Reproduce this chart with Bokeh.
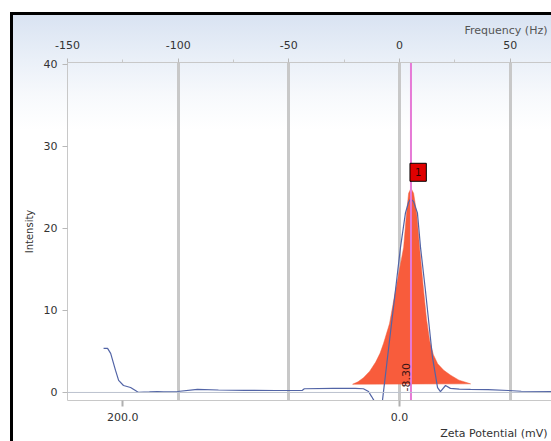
import math
from bokeh.plotting import figure
from bokeh.models import (Range1d, LinearAxis, FixedTicker, NumeralTickFormatter,
                          Label, Span, ColumnDataSource, Title)
from bokeh.core.properties import value
from bokeh.embed import file_html
from bokeh.resources import INLINE

# ---------------- data ----------------
# raw spectrum (frequency, Hz) vs intensity
freq_hz = [-133.7, -131.9, -130.5, -128.3, -126.9, -124.7, -121.5, -119.3, -117.9, -113.0,
           -109.3, -106.6, -100.3, -91.3, -81.8, -70.0, -56.0, -44.0, -43.0, -30.0,
           -20.0, -16.3, -14.0, -12.6, -11.5, -9.9, -8.6, -7.7, -5.4, -1.8,
           0.45, 2.7, 4.1, 5.0, 6.3, 8.1, 9.5, 11.7, 14.9, 17.2,
           18.5, 20.8, 23.0, 27.0, 32.1, 40.0, 49.2, 55.0, 68.7]
spec_int = [5.37, 5.37, 4.76, 2.69, 1.47, 0.85, 0.61, 0.24, 0.0, 0.06,
            0.12, 0.06, 0.12, 0.37, 0.30, 0.25, 0.24, 0.25, 0.45, 0.49,
            0.49, 0.45, 0.12, -0.5, -1.0, -1.6, -1.4, -1.0, 4.3, 12.5,
            17.7, 21.9, 23.2, 23.6, 23.3, 21.9, 17.7, 12.5, 4.3, 0.6,
            0.1, 0.85, 0.5, 0.4, 0.37, 0.35, 0.24, 0.15, 0.12]

# zeta potential distribution (mV) vs intensity
zeta_mv = [33.9, 30.0, 26.0, 21.5, 17.2, 14.0, 11.5, 7.2, 2.8, 0.0,
           -3.0, -5.1, -6.6, -8.3, -10.2, -12.4, -14.5, -17.4, -19.5, -21.8,
           -24.5, -27.6, -32.0, -37.0, -43.0, -51.4]
zeta_int = [1.0, 1.3, 1.8, 2.6, 3.7, 4.8, 6.0, 8.4, 12.5, 15.0,
            17.7, 21.9, 24.3, 24.9, 24.3, 21.9, 17.7, 12.5, 9.0, 6.3,
            4.6, 3.5, 2.7, 2.1, 1.5, 1.05]

peak_zeta = -8.30
peak_int = 24.9
peak_id = "1"

freq_ticks = [-150, -100, -50, 0, 50]
freq_minor = [-125, -75, -25, 25]
zeta_ticks = [200, 0]
int_ticks = [0, 10, 20, 30, 40]

# ---------------- figure ----------------
FONT = "DejaVu Sans"
hz_lo, hz_hi = -150, 68.68
p = figure(width=551, height=441, x_range=Range1d(hz_lo, hz_hi), y_range=Range1d(-0.98, 40.24),
           x_axis_location="above", output_backend="svg", toolbar_location=None,
           min_border_left=67, min_border_right=0, min_border_top=62, min_border_bottom=41)
p.extra_x_ranges = {"zeta": Range1d(-1.6 * hz_lo, -1.6 * hz_hi)}
p.background_fill_color = None
p.border_fill_color = None
p.outline_line_color = None
p.styles = {
    "background": ("linear-gradient(#000000, #000000) 10px 12px / 100% 3px no-repeat, "
                   "linear-gradient(#000000, #000000) 10px 12px / 3px 100% no-repeat, "
                   "linear-gradient(to bottom, #d9e3f2 0px, #eaf0f8 45px, #f7f9fc 80px, #ffffff 115px) "
                   "13px 15px / 100% 125px no-repeat, #ffffff"),
}

# top axis (frequency)
ta = p.xaxis[0]
ta.ticker = FixedTicker(ticks=freq_ticks, minor_ticks=freq_minor)
ta.formatter = NumeralTickFormatter(format="0")
ta.axis_line_color = "#c8c8c8"
ta.major_tick_line_color = "#b8b8b8"
ta.minor_tick_line_color = "#c8c8c8"
ta.major_tick_out = 4
ta.major_tick_in = 0
ta.minor_tick_out = 3
ta.minor_tick_in = 0
ta.major_label_standoff = 10
ta.major_label_text_font = FONT
ta.major_label_text_font_size = "11px"
ta.major_label_text_color = "#333333"

# left axis
la = p.yaxis[0]
la.ticker = FixedTicker(ticks=int_ticks, minor_ticks=[])
la.formatter = NumeralTickFormatter(format="0")
la.axis_line_color = "#c8c8c8"
la.major_tick_line_color = "#b8b8b8"
la.major_tick_out = 5
la.major_tick_in = 0
la.major_label_standoff = 5
la.major_label_text_font = FONT
la.major_label_text_font_size = "11px"
la.major_label_text_color = "#333333"
la.axis_label = "Intensity"
la.axis_label_text_font = FONT
la.axis_label_text_font_size = "10px"
la.axis_label_text_font_style = "normal"
la.axis_label_text_color = "#333333"
la.axis_label_standoff = 6

# bottom axis (zeta potential)
ba = LinearAxis(x_range_name="zeta", ticker=FixedTicker(ticks=zeta_ticks, minor_ticks=[]),
                formatter=NumeralTickFormatter(format="0.0"))
ba.axis_line_color = "#c8c8c8"
ba.major_tick_line_color = "#b0b0b0"
ba.major_tick_line_width = 2
ba.major_tick_out = 6
ba.major_tick_in = 0
ba.major_label_standoff = 6
ba.major_label_text_font = FONT
ba.major_label_text_font_size = "11px"
ba.major_label_text_color = "#333333"
p.add_layout(ba, "below")

# axis titles on the right-hand side
p.add_layout(Title(text="Frequency (Hz)", align="right", text_font=FONT,
                   text_font_size="11px", text_font_style="normal", text_color="#555555",
                   standoff=2, offset=4), "above")
p.add_layout(Title(text="Zeta Potential (mV)", align="right", text_font=FONT,
                   text_font_size="11px", text_font_style="normal", text_color="#333333",
                   standoff=2, offset=4), "below")

# grid
p.ygrid.visible = False
p.xgrid.ticker = FixedTicker(ticks=[t for t in freq_ticks if t > hz_lo])
p.xgrid.grid_line_color = "#c8c8c8"
p.xgrid.grid_line_width = 3

p.add_layout(Span(location=0, dimension="width", line_color="#bcc2ce", line_width=1))

# distribution fill
p.patch(zeta_mv, zeta_int, x_range_name="zeta", fill_color="#f85c3c", line_color="#f06040",
        line_width=0.5)

# spectrum line
p.line(freq_hz, spec_int, line_color="#5264a6", line_width=1.2)

# peak marker line
p.segment(x0=[peak_zeta], y0=[-5], x1=[peak_zeta], y1=[60], x_range_name="zeta",
          line_color="#e67ad6", line_width=2)

src = ColumnDataSource(dict(x=[peak_zeta], y=[0], t=[f"{peak_zeta:.2f}"]))
p.text(x="x", y="y", text="t", source=src, x_range_name="zeta", angle=math.pi / 2,
       text_align="left", text_baseline="bottom", x_offset=-1, y_offset=-1,
       text_font=value(FONT), text_font_size="11px", text_color="#3a1414")

p.add_layout(Label(x=peak_zeta, y=peak_int, x_range_name="zeta", text=peak_id,
                   x_offset=-1, y_offset=7, text_align="left", text_baseline="bottom",
                   text_font=FONT, text_font_size="10px", text_color="#300000",
                   background_fill_color="#e00000", border_line_color="black",
                   padding=5))

open("out.html", "w").write(file_html(p, INLINE))
